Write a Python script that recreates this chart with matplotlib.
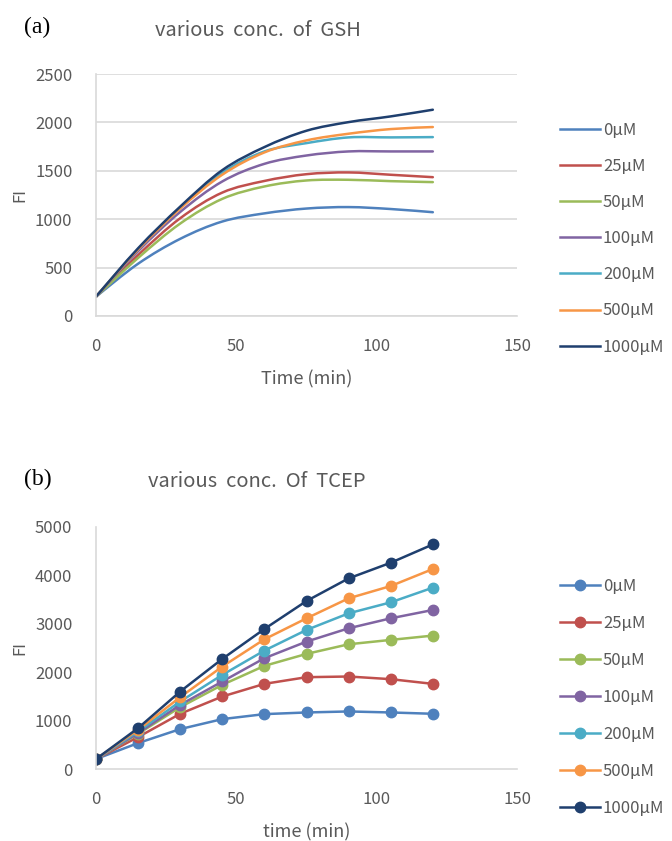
import numpy as np
import matplotlib
matplotlib.use("Agg")
import matplotlib.pyplot as plt
from matplotlib.path import Path
from matplotlib.patches import PathPatch
from matplotlib.lines import Line2D

plt.rcParams['font.family'] = ['Noto Sans CJK KR', 'DejaVu Sans']

# data
time = [0, 15, 30, 45, 60, 75, 90, 105, 120]
labels = ['0µM', '25µM', '50µM', '100µM', '200µM', '500µM', '1000µM']
colors = ['#4F81BD', '#C0504D', '#9BBB59', '#8064A2', '#4BACC6', '#F79646', '#1F3F6E']

gsh_0 = [200, 540, 797, 976, 1060, 1110, 1125, 1105, 1072]
gsh_25 = [200, 630, 1010, 1275, 1395, 1465, 1483, 1459, 1434]
gsh_50 = [200, 600, 955, 1210, 1338, 1400, 1407, 1393, 1383]
gsh_100 = [200, 670, 1075, 1390, 1572, 1658, 1700, 1700, 1700]
gsh_200 = [200, 690, 1120, 1480, 1700, 1786, 1845, 1845, 1848]
gsh_500 = [200, 688, 1110, 1460, 1690, 1814, 1883, 1931, 1952]
gsh_1000 = [200, 700, 1130, 1507, 1745, 1914, 2003, 2062, 2131]

tcep_0 = [206, 536, 825, 1031, 1134, 1168, 1189, 1168, 1141]
tcep_25 = [206, 660, 1141, 1498, 1759, 1897, 1911, 1856, 1759]
tcep_50 = [206, 728, 1278, 1739, 2131, 2378, 2577, 2667, 2756]
tcep_100 = [206, 742, 1326, 1808, 2289, 2632, 2907, 3113, 3285]
tcep_200 = [206, 777, 1395, 1945, 2447, 2873, 3216, 3443, 3746]
tcep_500 = [206, 811, 1485, 2117, 2680, 3113, 3526, 3780, 4131]
tcep_1000 = [206, 845, 1601, 2275, 2893, 3471, 3938, 4261, 4639]

gsh = [gsh_0, gsh_25, gsh_50, gsh_100, gsh_200, gsh_500, gsh_1000]
tcep = [tcep_0, tcep_25, tcep_50, tcep_100, tcep_200, tcep_500, tcep_1000]

GRAY = '#595959'
LIGHT = '#D9D9D9'


def smooth_path(x, y):
    # Excel style smoothed line: cubic Bezier segments through every point
    x = np.asarray(x, float)
    y = np.asarray(y, float)
    verts = [(x[0], y[0])]
    codes = [Path.MOVETO]
    n = len(x)
    for i in range(n - 1):
        x0, y0 = (x[i - 1], y[i - 1]) if i > 0 else (x[i], y[i])
        x3, y3 = (x[i + 2], y[i + 2]) if i + 2 < n else (x[i + 1], y[i + 1])
        c1 = (x[i] + (x[i + 1] - x0) / 6, y[i] + (y[i + 1] - y0) / 6)
        c2 = (x[i + 1] - (x3 - x[i]) / 6, y[i + 1] - (y3 - y[i]) / 6)
        verts += [c1, c2, (x[i + 1], y[i + 1])]
        codes += [Path.CURVE4] * 3
    return Path(verts, codes)


def style_axes(ax, ymax, ystep, xlabel, grid):
    ax.set_xlim(0, 150)
    ax.set_ylim(0, ymax)
    ax.set_xticks([0, 50, 100, 150])
    ax.set_yticks(np.arange(0, ymax + 1, ystep))
    ax.tick_params(length=0, labelsize=12, labelcolor=GRAY)
    ax.tick_params(axis='x', pad=16)
    ax.tick_params(axis='y', pad=17)
    for s in ['top', 'right']:
        ax.spines[s].set_visible(False)
    for s in ['left', 'bottom']:
        ax.spines[s].set_color(LIGHT)
        ax.spines[s].set_linewidth(1.2)
    if grid:
        ax.yaxis.grid(True, color=LIGHT, linewidth=1.2)
        ax.set_axisbelow(True)
    ax.set_xlabel(xlabel, fontsize=13, color=GRAY, labelpad=11)
    ax.set_ylabel('FI', fontsize=12, color=GRAY)
    ax.yaxis.set_label_coords(-0.16, 0.5)


fig = plt.figure(figsize=(6.72, 8.41), dpi=100)

# (a) GSH, smoothed lines
ax1 = fig.add_axes([0.1429, 0.6243, 0.6265, 0.2877])
for vals, c in zip(gsh, colors):
    ax1.add_patch(PathPatch(smooth_path(time, vals), fill=False, edgecolor=c,
                            linewidth=1.8, capstyle='round'))
style_axes(ax1, 2500, 500, 'Time (min)', True)
handles1 = [Line2D([], [], color=c, linewidth=1.8) for c in colors]
fig.legend(handles1, labels, loc='center left', bbox_to_anchor=(0.834, 0.7164),
           frameon=False, fontsize=12, labelcolor=GRAY, labelspacing=1.15,
           handlelength=2.4, handletextpad=0.15, borderpad=0, borderaxespad=0)

fig.text(0.055, 1 - 27 / 841, '(a)', family='Liberation Serif', fontsize=17,
         ha='center', va='center', color='black')
fig.text(258 / 672, 1 - 30 / 841, 'various  conc.  of  GSH', fontsize=14.5,
         ha='center', va='center', color=GRAY)

# (b) TCEP, lines with markers
ax2 = fig.add_axes([0.1429, 0.0856, 0.6265, 0.2878])
for vals, c in zip(tcep, colors):
    ax2.plot(time, vals, color=c, linewidth=1.8, marker='o', markersize=7.5)
style_axes(ax2, 5000, 1000, 'time (min)', False)
handles2 = [Line2D([], [], color=c, linewidth=1.8, marker='o', markersize=7.5)
            for c in colors]
fig.legend(handles2, labels, loc='center left', bbox_to_anchor=(0.834, 0.1712),
           frameon=False, fontsize=12, labelcolor=GRAY, labelspacing=1.2,
           handlelength=2.4, handletextpad=0.15, borderpad=0, borderaxespad=0)

fig.text(0.056, 1 - 479 / 841, '(b)', family='Liberation Serif', fontsize=17,
         ha='center', va='center', color='black')
fig.text(257 / 672, 1 - 482 / 841, 'various  conc.  Of  TCEP', fontsize=14.5,
         ha='center', va='center', color=GRAY)

fig.savefig('out.png', dpi=100)
